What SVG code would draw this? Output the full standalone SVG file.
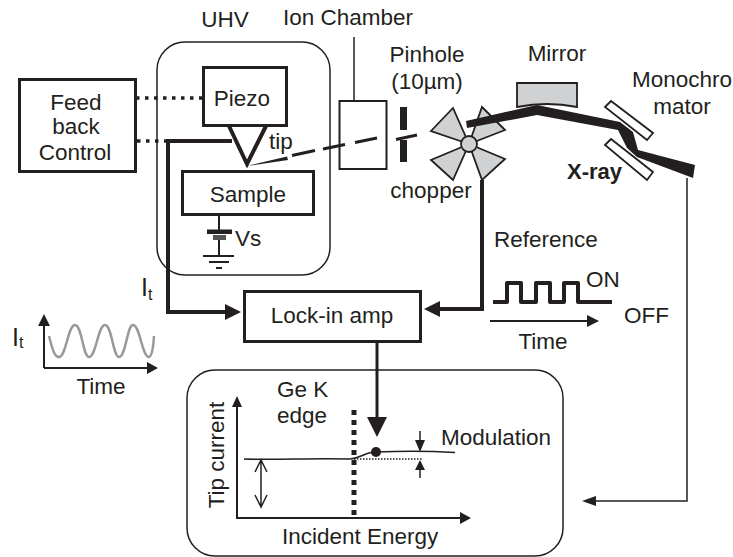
<svg xmlns="http://www.w3.org/2000/svg" width="733" height="557" viewBox="0 0 733 557">
<style>
text{font-family:"Liberation Sans",Arial,sans-serif;font-size:22.5px;fill:#231f20}
.m{text-anchor:middle}
.box{fill:none;stroke:#231f20;stroke-width:3}
.thin{fill:none;stroke:#231f20;stroke-width:1.5}
.wire{fill:none;stroke:#231f20;stroke-width:2}
.heavy{fill:none;stroke:#231f20;stroke-width:4}
.mid{fill:none;stroke:#231f20;stroke-width:3}
.ink{fill:#231f20;stroke:none}
.grey{fill:#cfd1d2;stroke:#231f20;stroke-width:1.8}
</style>
<rect width="733" height="557" fill="#fff"/>
<g id="uhv"><rect x="157" y="42" width="173" height="233" rx="28" class="thin"/><text x="225" y="27" class="m">UHV</text></g>
<g id="bottom-panel"><rect x="187" y="370" width="376" height="186" rx="28" class="thin"/></g>
<g id="connectors">
<path d="M136 98H203" fill="none" stroke="#231f20" stroke-width="3.500" stroke-dasharray="3.500 5.500"/>
<path d="M137 141H168" fill="none" stroke="#231f20" stroke-width="3.500" stroke-dasharray="3.500 5.500"/>
<path d="M232 141H168V312H226" class="heavy"/><path d="M241 312L225 304V320Z" class="ink"/>
<path d="M354 37V101" class="thin"/>
<path d="M482 180V309H438" class="heavy"/><path d="M424 309L440 301V317Z" class="ink"/>
<path d="M377 342V420" class="mid"/><path d="M377 437L367 417H387Z" class="ink"/>
<path d="M687 178V501H596" class="thin"/><path d="M582 501L596 496V506Z" class="ink"/>
<path d="M219 214V231M219 237V256" class="wire"/>
</g>
<g id="feedback"><rect x="19.500" y="79.500" width="116" height="92" class="box"/><text x="76" y="110" class="m">Feed</text><text x="76" y="134" class="m">back</text><text x="75" y="160" class="m">Control</text></g>
<g id="piezo"><rect x="203.500" y="67.500" width="83" height="58" class="box"/><text x="242" y="106" class="m">Piezo</text></g>
<g id="tip"><path d="M229 126L247 164L266 126" class="heavy"/><text x="269" y="149">tip</text></g>
<g id="sample"><rect x="182.500" y="171.500" width="131" height="43" class="box"/><text x="248" y="202" class="m">Sample</text></g>
<g id="battery">
<rect x="207" y="229.500" width="25" height="4.500" class="ink"/><rect x="213" y="235" width="13" height="5" fill="#555"/>
<path d="M203 256H234M209 262H229M216 268H222" class="wire"/><text x="235" y="246">Vs</text></g>
<g id="xray-beam">
<path d="M247 166L287 156.500L288 160Z" class="ink"/>
<path d="M292 155.500L315 150.500M323 149L345 144.500M355 142.500L377 138M396 139.500L417 135" class="mid"/>
</g>
<g id="ion-chamber"><rect x="339.500" y="101" width="47" height="68" class="wire"/><text x="283" y="25">Ion Chamber</text></g>
<g id="pinhole"><rect x="400" y="107" width="7" height="23" class="ink"/><rect x="400" y="140" width="7" height="22" class="ink"/><text x="427" y="62" class="m">Pinhole</text><text x="427" y="89" class="m">(10µm)</text></g>
<g id="chopper">
<path d="M469 144L431 131L453 108Z" class="grey"/><path d="M469 144L482 107L505 130Z" class="grey"/>
<path d="M469 144L431 160L453 180Z" class="grey"/><path d="M469 144L505 159L482 180Z" class="grey"/>
<circle cx="469" cy="144" r="8" class="grey"/><text x="431" y="198" class="m">chopper</text></g>
<g id="mirror"><path d="M517 83H577V107Q547 101 517 107Z" class="grey"/><text x="557" y="61" class="m">Mirror</text></g>
<g id="monochromator">
<path d="M605 107L611 101L653 133L647 140Z" fill="#fff" stroke="#231f20" stroke-width="1.800"/>
<path d="M605 145L611 139L653 172L647 180Z" fill="#fff" stroke="#231f20" stroke-width="1.800"/>
<text x="632" y="87">Monochro</text><text x="682" y="114" class="m">mator</text></g>
<g id="beam"><path d="M466 121L537 105L620 122L633 132L638 150L695 165L693 178L637 157L627 148L618 130L537 115L467 128Z" class="ink"/>
<text x="567" y="179" style="font-weight:bold;font-size:22px">X-ray</text></g>
<g id="lockin"><rect x="244.500" y="291.500" width="176" height="50" class="box"/><text x="332" y="323" class="m">Lock-in amp</text></g>
<g id="it-label"><text x="141" y="296" style="font-size:25px">I</text><text x="148" y="300" style="font-size:16px">t</text></g>
<g id="it-plot">
<path d="M44 368V324M44 368H148" class="wire"/><path d="M44 314L38 326H50ZM158 368L147 362V374Z" class="ink"/>
<path d="M49 336C53 352 55 357 59 357C66 357 68 325 75 325C82 325 83 357 89 357C96 357 98 325 105 325C112 325 113 357 119 357C126 357 127 325 133 325C140 325 142 357 149 357C151 357 153 352 154 336" fill="none" stroke="#999" stroke-width="2.500"/>
<text x="12" y="346" style="font-size:25px">I</text><text x="19" y="348" style="font-size:16px">t</text>
<text x="101" y="394" class="m">Time</text></g>
<g id="reference"><text x="494" y="247">Reference</text>
<path d="M493 302H507V283H521V302H536V283H550V302H564V283H578V302H612" class="heavy" stroke-linejoin="round"/>
<text x="586" y="287">ON</text><text x="624" y="323">OFF</text>
<path d="M490 321H588" class="wire"/><path d="M599 321L587 315V327Z" class="ink"/>
<text x="543" y="349" class="m">Time</text></g>
<g id="plot">
<path d="M237 406V518H461" class="wire"/><path d="M237 396L232 407H242ZM471 518L460 512V524Z" class="ink"/>
<path d="M354 410V517" fill="none" stroke="#231f20" stroke-width="5" stroke-dasharray="5 5"/>
<path d="M244 459C280 460 310 458 350 459C362 458 365 452 376 452C400 451 430 451 455 452.500" class="thin"/>
<circle cx="376" cy="452" r="5" class="ink"/>
<path d="M354 459H422" fill="none" stroke="#231f20" stroke-width="1.500" stroke-dasharray="1.500 1.500"/>
<path d="M261 460V507M255 472L261 460L267 472M255 495L261 507L267 495" class="thin"/>
<path d="M420 431V442M420 470V478" class="thin"/><path d="M420 452L415 440H425ZM420 460L415 470H425Z" class="ink"/>
<text x="277" y="397">Ge K</text><text x="277" y="423">edge</text>
<text x="441" y="445">Modulation</text>
<text x="282" y="544">Incident Energy</text>
<text transform="translate(224 455) rotate(-90)" class="m">Tip current</text>
</g>
</svg>
